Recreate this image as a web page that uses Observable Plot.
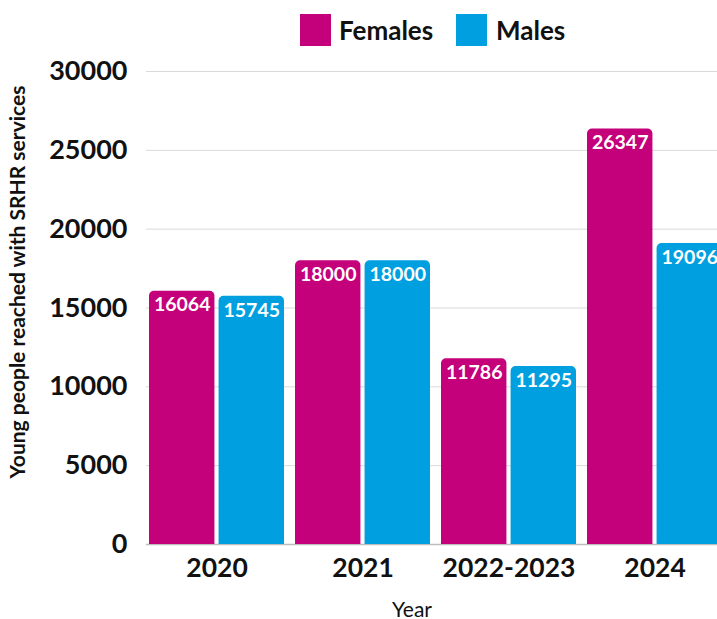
<!DOCTYPE html>
<html>
<head>
<meta charset="utf-8">
<script src="https://cdn.jsdelivr.net/npm/d3@7"></script>
<script src="https://cdn.jsdelivr.net/npm/@observablehq/plot@0.6"></script>
<style>
  html, body { margin: 0; padding: 0; background: #fff; overflow: hidden; width: 717px; height: 619px; }
  body { font-family: Lato, "Open Sans", sans-serif; position: relative; }
  #legend { position: relative; height: 60px; }
  .sw { position: absolute; top: 14px; width: 31px; height: 32px; }
  .lb { position: absolute; top: 12px; font-size: 26px; font-weight: bold; color: #111; line-height: 36px; }
  #chart { width: 725px; }
  #chart svg { display: block; overflow: visible; max-width: none !important; }
</style>
</head>
<body>
<div id="legend">
  <div class="sw" style="left:300px;background:#c4007a"></div>
  <div class="lb" style="left:339px">Females</div>
  <div class="sw" style="left:456px;background:#009fdf"></div>
  <div class="lb" style="left:496px">Males</div>
</div>
<div id="chart"></div>
<script>
const years = ["2020", "2021", "2022-2023", "2024"];
const groups = ["Females", "Males"];
const females = [16064, 18000, 11786, 26347];
const males = [15745, 18000, 11295, 19096];
const yTicks = [0, 5000, 10000, 15000, 20000, 25000, 30000];
const colors = ["#c4007a", "#009fdf"];
const yTitle = "Young people reached with SRHR services";
const xTitle = "Year";

const W = 725, ML = 146, MR = 0, PAD = 0.051;
const step = (W - ML - MR) / (years.length - PAD);
const bw = step * (1 - PAD);
const half = bw / 2;
const gap = 2;

const fData = years.map((yr, i) => ({year: yr, sex: "Females", value: females[i]}));
const mData = years.map((yr, i) => ({year: yr, sex: "Males", value: males[i]}));

const labelOpts = {x: "year", y: "value", text: d => String(d.value), fill: "white",
  fontSize: 19.5, fontWeight: "bold", dy: 14, lineAnchor: "middle"};

const chart = Plot.plot({
  width: W,
  height: 559,
  marginLeft: ML,
  marginRight: MR,
  marginTop: 11,
  marginBottom: 75,
  style: {fontFamily: "Lato, 'Open Sans', sans-serif", color: "#111", background: "transparent", maxWidth: "none"},
  x: {domain: years, paddingInner: PAD, paddingOuter: 0, axis: null, label: null},
  y: {domain: [0, 30000], axis: null, label: null},
  color: {domain: groups, range: colors},
  marks: [
    Plot.ruleY(yTicks.filter(d => d > 0), {stroke: "#d9d9d9", strokeWidth: 1}),
    Plot.ruleY([0], {stroke: "#bdbdbd", strokeWidth: 1.5}),
    Plot.barY(fData, {x: "year", y: "value", fill: "sex", insetLeft: gap, insetRight: half + gap, ry1: 5}),
    Plot.barY(mData, {x: "year", y: "value", fill: "sex", insetLeft: half + gap, insetRight: gap, ry1: 5}),
    Plot.text(fData, {...labelOpts, dx: -(half / 2)}),
    Plot.text(mData, {...labelOpts, dx: half / 2}),
    Plot.axisY({ticks: yTicks, tickSize: 0, tickPadding: 19, fontSize: 27, fontWeight: "bold",
      tickFormat: d => String(d), label: null}),
    Plot.axisX({tickSize: 0, tickPadding: 14, fontSize: 26.5, fontWeight: "bold", label: null}),
    Plot.text([yTitle], {text: d => d, frameAnchor: "left", rotate: -90, dx: -128, dy: -26,
      fontSize: 21, fontWeight: "bold", textAnchor: "middle"}),
    Plot.text([xTitle], {text: d => d, frameAnchor: "bottom", dx: -24, dy: 72,
      fontSize: 21, textAnchor: "middle"})
  ]
});
document.getElementById("chart").appendChild(chart);
</script>
</body>
</html>
